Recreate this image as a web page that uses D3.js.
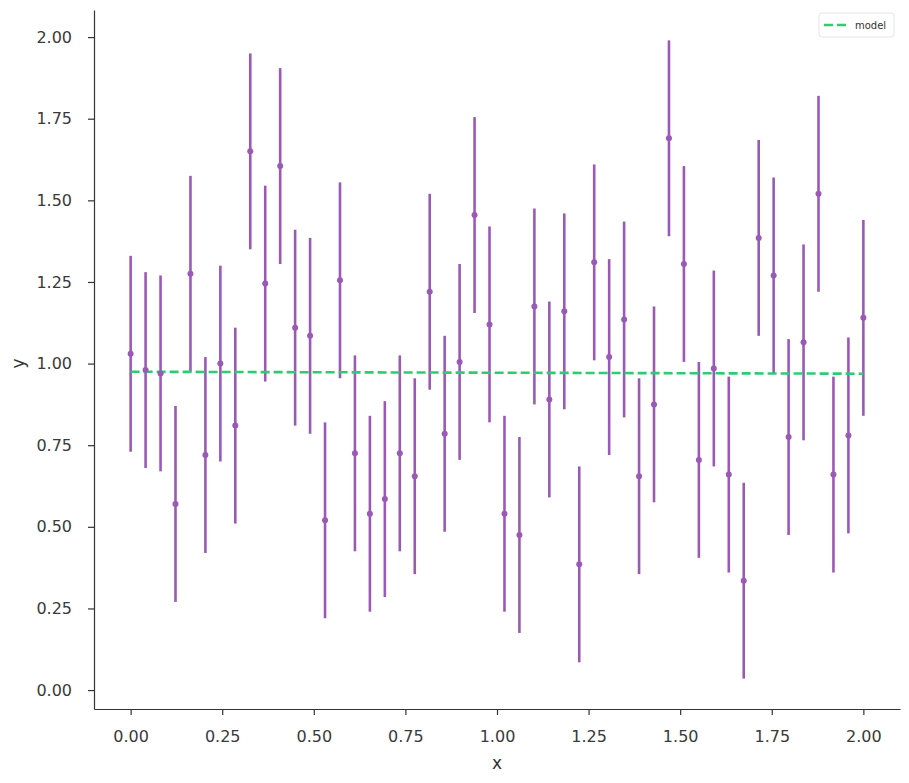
<!DOCTYPE html>
<html>
<head>
<meta charset="utf-8">
<script src="https://cdn.jsdelivr.net/npm/d3@7"></script>
<style>
  body { margin: 0; background: #fff; }
  svg text { font-family: "DejaVu Sans", sans-serif; }
  .tick text { fill: #3a3a3a; }
  .tick line, .domain { stroke: #333; }
</style>
</head>
<body>
<div id="chart"></div>
<script>
// data
var yValues = [1.03, 0.98, 0.97, 0.57, 1.275, 0.72, 1.00, 0.81, 1.65, 1.245,
               1.605, 1.11, 1.085, 0.52, 1.255, 0.725, 0.54, 0.585, 0.725, 0.655,
               1.22, 0.785, 1.005, 1.455, 1.12, 0.54, 0.475, 1.175, 0.89, 1.16,
               0.385, 1.31, 1.02, 1.135, 0.655, 0.875, 1.69, 1.305, 0.705, 0.985,
               0.66, 0.335, 1.385, 1.27, 0.775, 1.065, 1.52, 0.66, 0.78, 1.14];
var xStart = 0, xEnd = 2;
var yErr = 0.3;
var modelX = [0, 2];
var modelY = [0.975, 0.969];
var xTicks = [0, 0.25, 0.5, 0.75, 1, 1.25, 1.5, 1.75, 2];
var yTicks = [0, 0.25, 0.5, 0.75, 1, 1.25, 1.5, 1.75, 2];

var xValues = yValues.map(function(d, i){ return xStart + i * (xEnd - xStart) / (yValues.length - 1); });
var points = yValues.map(function(d, i){ return {x: xValues[i], y: d}; });

var width = 909, height = 783;
var margin = {top: 10, right: 9, bottom: 74, left: 94};
var purple = '#9b59b6', green = '#2ecc71';

var svg = d3.select('#chart').append('svg').attr('width', width).attr('height', height);

var x = d3.scaleLinear().domain([-0.1, 2.1]).range([margin.left, width - margin.right]);
var y = d3.scaleLinear().domain([-0.058, 2.083]).range([height - margin.bottom, margin.top]);

// axes
svg.append('g').attr('transform', `translate(0,${height - margin.bottom})`)
  .call(d3.axisBottom(x).tickValues(xTicks).tickFormat(d3.format('.2f')).tickSize(6).tickPadding(16).tickSizeOuter(0));
svg.append('g').attr('transform', `translate(${margin.left},0)`)
  .call(d3.axisLeft(y).tickValues(yTicks).tickFormat(d3.format('.2f')).tickSize(6).tickPadding(16).tickSizeOuter(0));
svg.selectAll('.domain').attr('stroke-width', 1.2);
svg.selectAll('.tick line').attr('stroke-width', 1.2);
svg.selectAll('.tick text').attr('font-size', 16).attr('font-family', '"DejaVu Sans", sans-serif');

svg.append('text').attr('x', x(1)).attr('y', 769).attr('text-anchor', 'middle')
  .attr('font-size', 17).attr('fill', '#333').text('x');
svg.append('text').attr('transform', `translate(24,${y(1)}) rotate(-90)`).attr('text-anchor', 'middle')
  .attr('font-size', 17).attr('fill', '#333').text('y');

// error bars
svg.append('g').selectAll('line').data(points).enter()
  .append('line')
  .attr('x1', d => x(d.x)).attr('x2', d => x(d.x))
  .attr('y1', d => y(d.y - yErr)).attr('y2', d => y(d.y + yErr))
  .attr('stroke', purple).attr('stroke-width', 2.6);

// model line
var line = d3.line().x((d, i) => x(modelX[i])).y(d => y(d));
svg.append('path').datum(modelY).attr('d', line)
  .attr('fill', 'none').attr('stroke', green).attr('stroke-width', 2.6)
  .attr('stroke-dasharray', '9,4');

// points
svg.append('g').selectAll('circle').data(points).enter()
  .append('circle')
  .attr('cx', d => x(d.x)).attr('cy', d => y(d.y)).attr('r', 3)
  .attr('fill', purple);

// legend
var lg = svg.append('g').attr('transform', 'translate(819,13)');
lg.append('rect').attr('width', 75).attr('height', 24).attr('rx', 3)
  .attr('fill', '#fff').attr('stroke', '#e5e5e5');
lg.append('line').attr('x1', 5).attr('x2', 28).attr('y1', 12).attr('y2', 12)
  .attr('stroke', green).attr('stroke-width', 2.6).attr('stroke-dasharray', '9,4');
lg.append('text').attr('x', 36).attr('y', 16).attr('font-size', 10).attr('fill', '#333').text('model');
</script>
</body>
</html>
